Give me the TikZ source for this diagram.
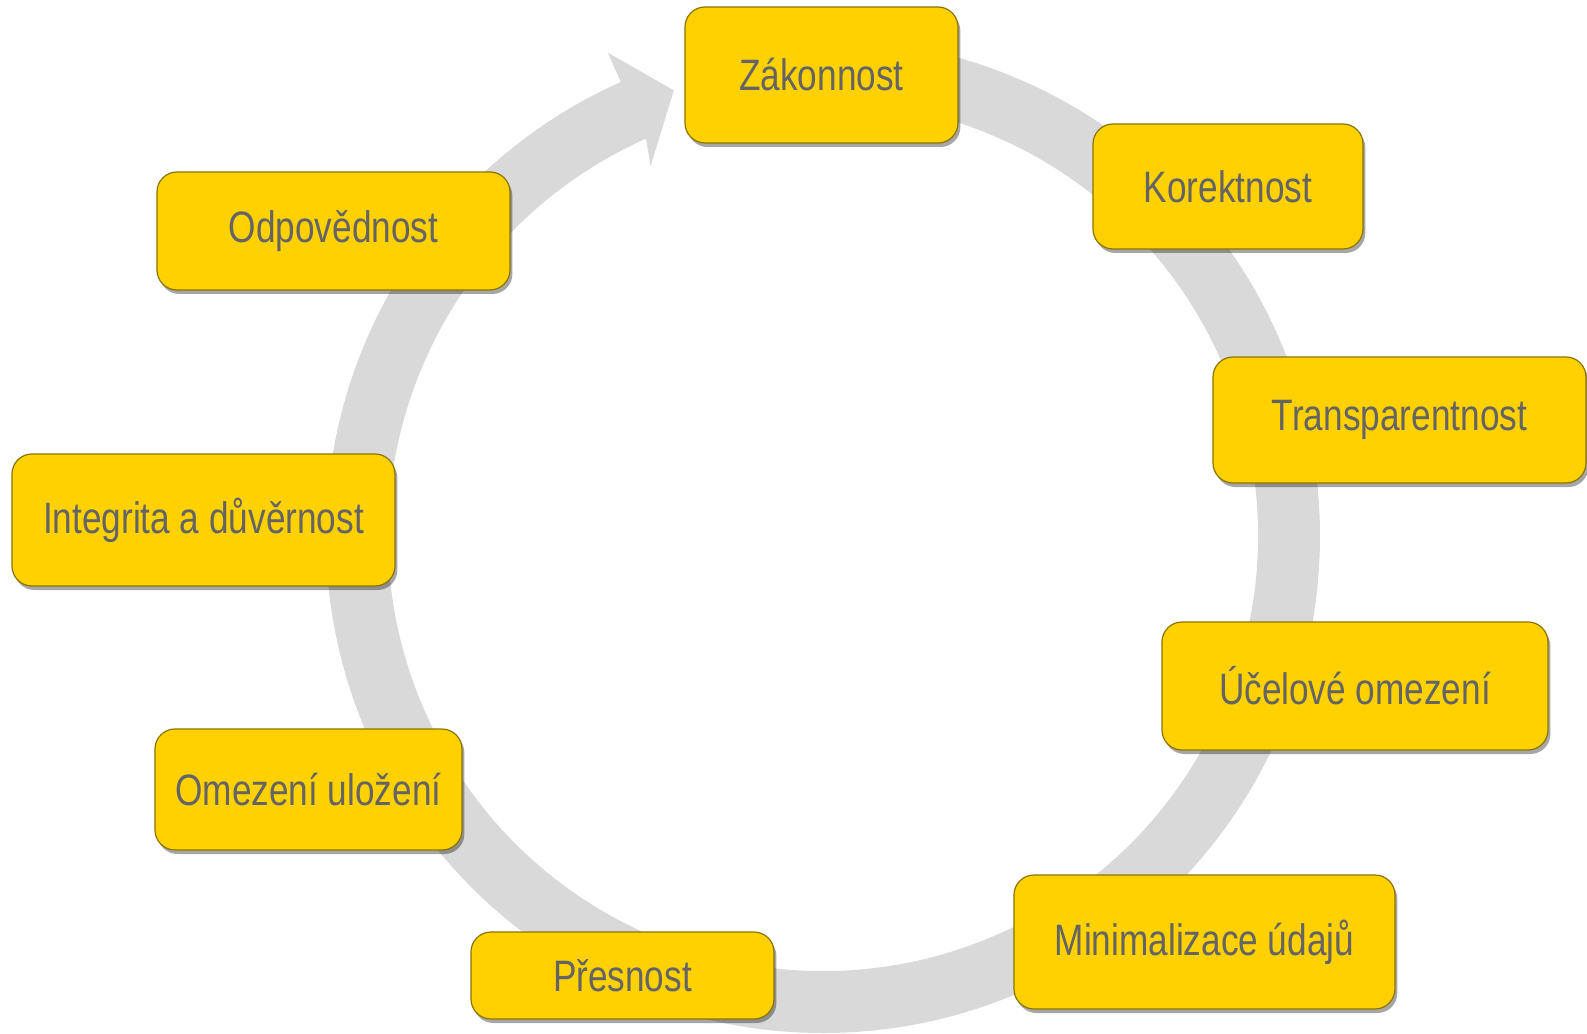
\documentclass[tikz,border=0pt]{standalone}
\usepackage{fontspec}
\setmainfont[FakeStretch=0.8]{Liberation Sans}
\usepackage{tikz}
\usetikzlibrary{shadows}

\definecolor{ringgray}{HTML}{D9D9D9}
\definecolor{boxfill}{HTML}{FFD100}
\definecolor{boxline}{HTML}{8A7400}
\definecolor{labelgray}{HTML}{646464}

\tikzset{
    principle/.style={draw=boxline, line width=0.6pt, fill=boxfill,
        rounded corners=10pt, inner sep=0pt, text=labelgray,
        font=\fontsize{22}{26}\selectfont,
        drop shadow={shadow xshift=1.2pt, shadow yshift=-2pt, fill=black, opacity=0.35}}
}

\begin{document}
\begin{tikzpicture}[x=0.5pt, y=0.5pt]
    \useasboundingbox (-823,-498) rectangle (764,536);

    % ring arrow, clockwise, head at the top
    \fill[ringgray] (90:497) arc[start angle=90, end angle=-246, radius=497]
        -- (-246:529) -- (-251.5:470) -- (-245:408) -- (-246:435)
        arc[start angle=-246, end angle=90, radius=435] -- cycle;

    % principles
    \node[principle, minimum width=136.5pt, minimum height=68pt] (zak) at (-1.5,461) {Zákonnost};
    \node[principle, minimum width=135pt, minimum height=62.5pt] (kor) at (405,349.5) {Korektnost};
    \node[principle, minimum width=186.5pt, minimum height=63pt] (tra) at (576.5,116) {Transparentnost};
    \node[principle, minimum width=193pt, minimum height=64pt] (uce) at (532,-150) {Účelové omezení};
    \node[principle, minimum width=190.5pt, minimum height=67pt] (min) at (381.5,-406) {Minimalizace údajů};
    \node[principle, minimum width=151.5pt, minimum height=43.5pt] (pre) at (-200.5,-439.5) {Přesnost};
    \node[principle, minimum width=153.5pt, minimum height=60.5pt] (ome) at (-514.5,-253.5) {Omezení uložení};
    \node[principle, minimum width=191.5pt, minimum height=66pt] (int) at (-619.5,16) {Integrita a důvěrnost};
    \node[principle, minimum width=176.5pt, minimum height=59pt] (odp) at (-489.5,305) {Odpovědnost};
\end{tikzpicture}
\end{document}
